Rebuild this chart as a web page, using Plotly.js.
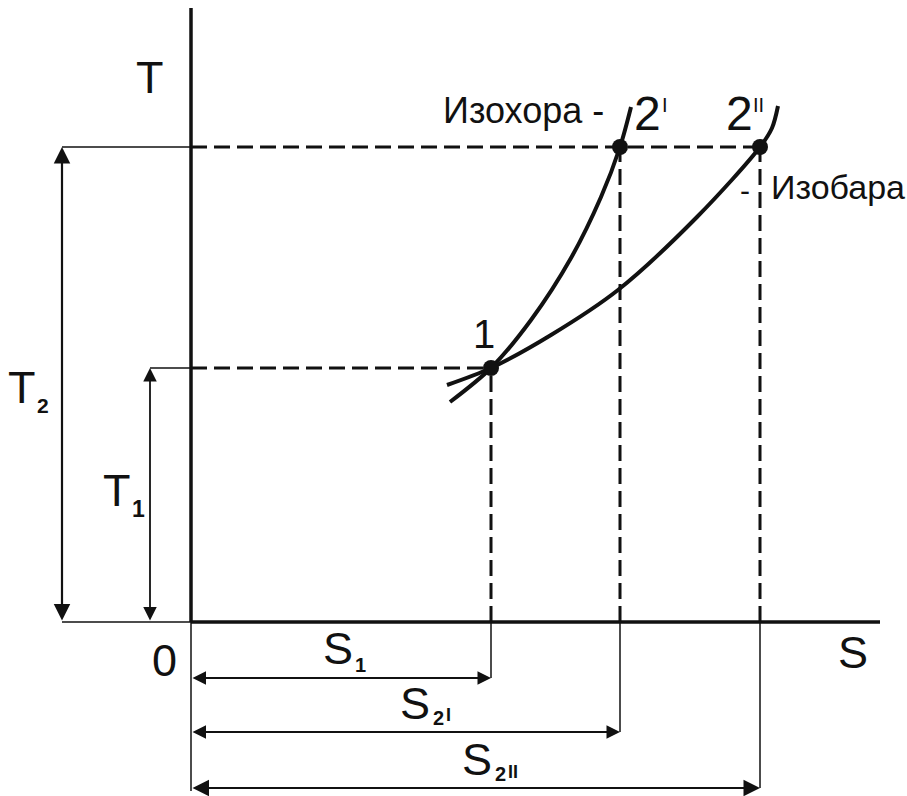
<!DOCTYPE html>
<html>
<head>
<meta charset="utf-8">
<script src="https://cdn.plot.ly/plotly-3.0.1.min.js"></script>
<style>html,body{margin:0;padding:0;background:#fff}#chart{width:907px;height:796px}</style>
</head>
<body>
<div id="chart"></div>
<script>
// ---- data (S, T in drawing units, origin at the axes' corner) ----
const pointNames = ["1", "2'", "2''"];
const pointS = [300, 429, 569];   // S1, S2', S2''
const pointT = [254, 475, 475];   // T1, T2, T2
const isochoreS = [259, 300, 340, 380, 410, 429, 440];
const isochoreT = [220, 254, 302, 364, 425, 475, 515];
const isobarS = [256, 300, 360, 427, 506, 569, 581, 587];
const isobarT = [237, 254, 287, 332, 405, 475, 494, 516];
const axisEndS = 689;
const axisEndT = 614;

const INK = '#111111';
const FONT = 'Liberation Sans, Arial, sans-serif';

const traces = [];
function seg(x0, y0, x1, y1, w, dash) {
  traces.push({x: [x0, x1], y: [y0, y1], mode: 'lines', type: 'scatter',
    line: {color: INK, width: w, dash: dash || 'solid'}, hoverinfo: 'skip', showlegend: false});
}

const S1 = pointS[0], S2a = pointS[1], S2b = pointS[2];
const T1 = pointT[0], T2 = pointT[1];

// axes
seg(0, 0, 0, axisEndT, 3.5);
seg(0, 0, axisEndS, 0, 3.5);

// dashed projections
const D = '16px,7px';
seg(0, T2, S2b, T2, 3, D);
seg(0, T1, S1, T1, 3, D);
seg(S1, 0, S1, T1, 3, D);
seg(S2a, 0, S2a, T2, 3, D);
seg(S2b, 0, S2b, T2, 3, D);

// dimension layout positions
const xT2dim = -129, xT1dim = -41;
const yS1dim = -56, yS2adim = -110, yS2bdim = -166;

// extension lines (thin)
seg(xT2dim, T2, 0, T2, 1.5);
seg(xT1dim, T1, 0, T1, 1.5);
seg(xT2dim, 0, 0, 0, 1.5);
seg(0, 0, 0, yS2bdim - 3, 1.5);
seg(S1, 0, S1, yS1dim, 1.5);
seg(S2a, 0, S2a, yS2adim, 1.5);
seg(S2b, 0, S2b, yS2bdim, 1.5);

// curves
traces.push({x: isochoreS, y: isochoreT, mode: 'lines', type: 'scatter',
  line: {color: INK, width: 4, shape: 'spline', smoothing: 0.9}, hoverinfo: 'skip', showlegend: false});
traces.push({x: isobarS, y: isobarT, mode: 'lines', type: 'scatter',
  line: {color: INK, width: 4, shape: 'spline', smoothing: 0.9}, hoverinfo: 'skip', showlegend: false});
// state points
traces.push({x: pointS, y: pointT, text: pointNames, mode: 'markers', type: 'scatter',
  marker: {color: INK, size: 16}, hoverinfo: 'skip', showlegend: false});

const annotations = [];
function arrow(x0, y0, x1, y1, w) {
  annotations.push({x: x1, y: y1, ax: x0, ay: y0, xref: 'x', yref: 'y', axref: 'x', ayref: 'y',
    text: '', showarrow: true, arrowside: 'end+start', arrowhead: 2, startarrowhead: 2,
    arrowsize: 1.5, startarrowsize: 1.5, arrowwidth: w, arrowcolor: INK, standoff: 0, startstandoff: 0});
}
arrow(xT2dim, 0, xT2dim, T2, 2.2);
arrow(xT1dim, 0, xT1dim, T1, 1.8);
arrow(0, yS1dim, S1, yS1dim, 1.8);
arrow(0, yS2adim, S2a, yS2adim, 1.8);
arrow(0, yS2bdim, S2b, yS2bdim, 2.2);

function txt(x, y, text, size, xanchor, bold) {
  annotations.push({x: x, y: y, xref: 'x', yref: 'y', text: bold ? '<b>' + text + '</b>' : text,
    showarrow: false, xanchor: xanchor || 'center', yanchor: 'middle',
    font: {family: FONT, size: size, color: INK}});
}
const BIG = 45;
txt(-41, 545, 'T', BIG);
txt(662, -30, 'S', BIG);
txt(-27, -38, '0', BIG);
txt(-169, 235, 'T', BIG);
txt(-148, 217, '2', 21, 'center', true);
txt(-74, 132, 'T', BIG);
txt(-53, 113, '1', 23, 'center', true);
txt(147, -26, 'S', BIG);
txt(169, -43, '1', 20, 'center', true);
txt(224, -81, 'S', BIG);
txt(247, -96, '2', 20, 'center', true);
txt(257, -93, 'I', 18, 'center', true);
txt(286, -137, 'S', BIG);
txt(309, -152, '2', 20, 'center', true);
txt(322, -150, 'II', 18, 'center', true);
txt(293, 288, pointNames[0], 40);
txt(456, 509, '2', 48);
txt(474, 517, 'I', 20);
txt(548, 509, '2', 48);
txt(567, 517, 'II', 20);
txt(250, 512, 'Изохора -', 36, 'left');
txt(554, 432, '-', 30);
txt(578, 435, 'Изобара', 34, 'left');

const layout = {
  width: 907, height: 796,
  margin: {l: 0, r: 0, t: 0, b: 0, pad: 0},
  paper_bgcolor: '#ffffff', plot_bgcolor: '#ffffff',
  xaxis: {range: [-191, 716], visible: false, fixedrange: true},
  yaxis: {range: [-174, 622], visible: false, fixedrange: true},
  showlegend: false, hovermode: false,
  annotations: annotations
};
Plotly.newPlot('chart', traces, layout, {staticPlot: true, displayModeBar: false});
</script>
</body>
</html>
